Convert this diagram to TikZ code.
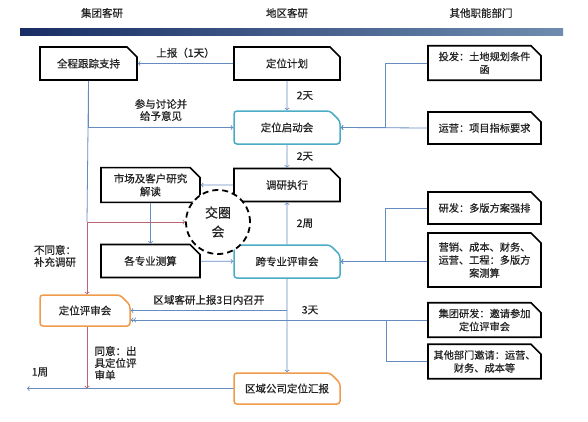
\documentclass[tikz,border=0pt]{standalone}
\usepackage{fontspec}
\setmainfont{Noto Sans CJK SC}[FakeBold=0.6]
\usepackage{tikz}
\usetikzlibrary{positioning}
\usetikzlibrary{arrows,shapes}
\definecolor{flowblue}{RGB}{100,140,192}
\definecolor{flowred}{RGB}{185,100,115}
\definecolor{boxteal}{RGB}{75,172,198}
\definecolor{boxorange}{RGB}{240,155,75}
\definecolor{headnavy}{RGB}{25,45,100}
\definecolor{headsteel}{RGB}{110,140,175}
\definecolor{inkgray}{RGB}{35,35,35}
\tikzstyle{box}=[chamfered rectangle,chamfered rectangle corners=north east,chamfered rectangle xsep=5pt,chamfered rectangle ysep=5pt,inner sep=1pt,align=center,text=inkgray,font=\fontsize{10.5}{13}\selectfont]
\tikzstyle{blackbox}=[box,draw=black,line width=1.6pt,minimum height=33pt]
\tikzstyle{tealbox}=[box,draw=boxteal,line width=1.5pt,rounded corners=3pt,minimum width=106pt,minimum height=33pt]
\tikzstyle{orangebox}=[box,draw=boxorange,line width=1.5pt,rounded corners=3pt,minimum height=31pt]
\tikzstyle{sidebox}=[box,draw=black,line width=1.6pt,minimum width=113pt,inner xsep=0pt,font=\fontsize{10.2}{13}\selectfont]
\tikzstyle{header}=[font=\fontsize{10.5}{13}\selectfont,text=inkgray]
\tikzstyle{edge} = [draw,flowblue,line width=0.8pt,->]
\tikzstyle{plainedge} = [draw,flowblue,line width=0.8pt]
\tikzstyle{rededge} = [draw,flowred,line width=0.8pt,->]
\tikzstyle{weight} = [font=\fontsize{10.5}{12}\selectfont,text=inkgray,align=center]

\begin{document}
\begin{tikzpicture}[x=1pt,y=-1pt]
\useasboundingbox[fill=white] (0,0) rectangle (588,421);

    % Header row and its shaded rule
    \shade[left color=headnavy, middle color=gray!12, right color=headsteel] (20,28) rectangle (563,35);
    \foreach \pos/\name/\label in {{(102,13)/hgroup/集团客研}, {(287,13)/hregion/地区客研}, {(481,13)/hother/其他职能部门}}
        \node[header] (\name) at \pos {\label};

    % Boxes of the two left columns
    \foreach \pos/\name/\w/\label in {{(88.5,63.5)/track/97/全程跟踪支持}, {(287,63.5)/plan/106/定位计划}, {(287,185)/survey/106/调研执行}, {(150.5,185)/market/99/{市场及客户研究\\解读}}, {(150.5,261)/calc/99/各专业测算}}
        \node[blackbox, minimum width=\w pt] (\name) at \pos {\label};
    \foreach \pos/\name/\label in {{(287,127.5)/kickoff/定位启动会}, {(287,261.5)/cross/跨专业评审会}}
        \node[tealbox] (\name) at \pos {\label};
    \foreach \pos/\name/\w/\label in {{(85,310.5)/review/90/定位评审会}, {(287,388.5)/report/106/区域公司定位汇报}}
        \node[orangebox, minimum width=\w pt] (\name) at \pos {\label};

    % Boxes of the other departments
    \foreach \pos/\name/\h/\label in {{(484.5,63)/land/34/{投发：土地规划条件\\函}}, {(484.5,128)/ops/32/运营：项目指标要求}, {(484.5,208)/rd/32/研发：多版方案强排}, {(484.5,260)/multi/54/{营销、成本、财务、\\运营、工程：多版方\\案测算}}, {(484.5,320)/group/32/{集团研发：邀请参加\\定位评审会}}, {(484.5,361.5)/other/33/{其他部门邀请：运营、\\财务、成本等}}}
        \node[sidebox, minimum height=\h pt] (\name) at \pos {\label};

    \coordinate (split) at (87,222);
    \coordinate (out) at (27,388.5);

    % Connect the boxes
    \path[edge] (plan) -- node[weight,above=2pt] {上报（1天）} (track);
    \path[edge] (plan) -- node[weight,right=6pt] {2天} (kickoff);
    \path[edge] (kickoff) -- node[weight,right=6pt] {2天} (survey);
    \path[edge] (cross) -- node[weight,right=6pt] {2周} (survey);
    \path[edge] (survey) -- (market);
    \path[edge] (market) -- (calc);
    \path[edge] (calc) -- (cross);
    \path[edge] (cross) -- (report);
    \path[plainedge] (track.south) -- (split);
    \path[edge] (track.south) |- (kickoff.west);
    \path[rededge] (split) -- (split |- review.north);
    \path[edge] (cross.south |- review.east) -- node[weight,above=2pt] {区域客研上报3日内召开} (review.east);
    \path[edge] (report) -- (out);
    \path[rededge] (review.south -| split) -- (split |- out);

    % Lines from the other departments
    \path[edge] (land.west) -- ++(-42,0) |- (kickoff.east);
    \path[edge] (ops.west) -- (kickoff.east);
    \path[edge] (rd.west) -- ++(-42,0) |- (cross.east);
    \path[edge] (multi.west |- cross.east) -- (cross.east);
    \path[plainedge] (other.west) -- ++(-41,0) |- (group.west);
    \path[draw,flowblue,line width=0.8pt,->>] (group.west) -- (review.east |- group.west);

    % The joint meeting
    \node[circle,draw=black,fill=white,line width=1.8pt,dash pattern=on 6pt off 4pt,minimum size=64pt,inner sep=0pt,align=center,text=inkgray,font=\fontsize{13}{19}\selectfont] (ring) at (218,222) {交圈\\会};
    \path[rededge] (split) -- (ring.west);

\node[weight] at (161,110) {参与讨论并\\给予意见};
\node[weight,align=left] at (55,256) {不同意：\\补充调研};
\node[weight,align=left,anchor=west] at (91,363) {同意：出\\具定位评\\审单};
\node[weight] at (40,372) {1周};
\node[weight] at (310,310) {3天};

\end{tikzpicture}
\end{document}
